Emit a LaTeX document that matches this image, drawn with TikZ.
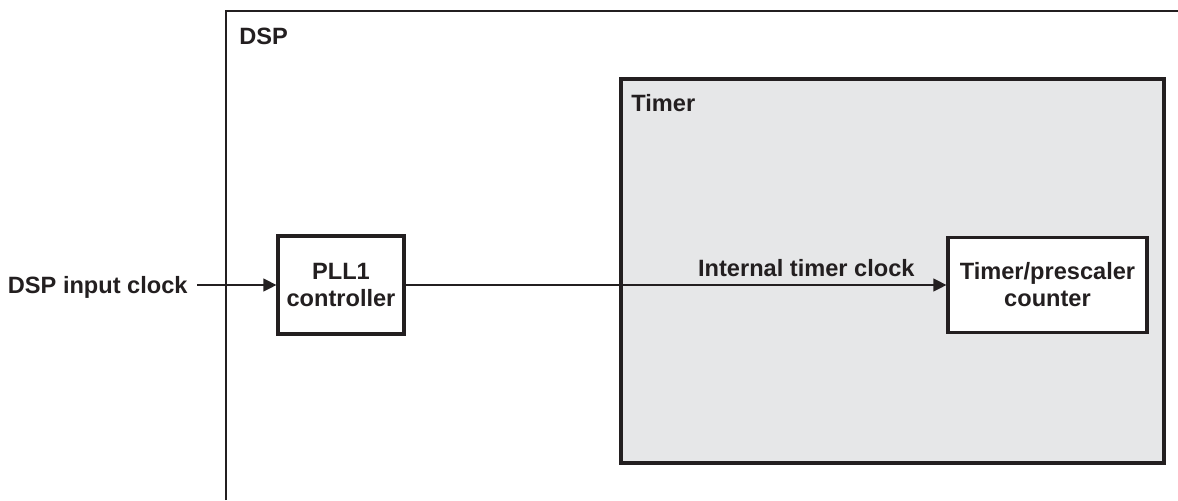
\documentclass[tikz,border=0pt]{standalone}
\usepackage{fontspec}
\setmainfont{Liberation Sans}
\usetikzlibrary{arrows.meta}
\definecolor{inkdark}{HTML}{231F20}
\definecolor{timergray}{HTML}{E6E7E8}

\begin{document}
\begin{tikzpicture}[x=0.5pt, y=-0.5pt,
    every node/.style={font=\bfseries\fontsize{11.8}{13.5}\selectfont, text=inkdark},
    block/.style={draw=inkdark, line width=1.6pt, fill=white, align=center, inner sep=0pt},
    tag/.style={anchor=base west, inner sep=0pt},
    signal/.style={draw=inkdark, line width=0.6pt, -{Triangle[length=6.5pt,width=6.5pt]}}]
    \useasboundingbox (0,0) rectangle (1178,500);

    % DSP outline (runs off the right and bottom)
    \draw [inkdark, line width=0.7pt] (226,500) -- (226,11) -- (1178,11);
    \node [tag] (dsplabel) at (239,44) {DSP};

    % Timer module
    \node [block, fill=timergray, minimum width=271.5pt, minimum height=192pt] (timer) at (892.5,271) {};
    \node [tag] (timerlabel) at (631,111) {Timer};

    % Blocks
    \node [block, minimum width=63pt, minimum height=49pt] (pll) at (341,285) {PLL1\\controller};
    \node [block, minimum width=99.5pt, minimum height=47.5pt] (counter) at (1047.5,285) {Timer/prescaler\\counter};

    % Clock input
    \node [anchor=east, inner xsep=4.5pt, text depth=0pt] (input) at (197,285) {DSP input clock};

    % Clock path
    \draw [signal] (input.east) -- (pll.west);
    \draw [signal] (pll.east) -- node [pos=0.741, anchor=base, yshift=4.5pt] (clocklabel) {Internal timer clock} (counter.west);
\end{tikzpicture}
\end{document}
